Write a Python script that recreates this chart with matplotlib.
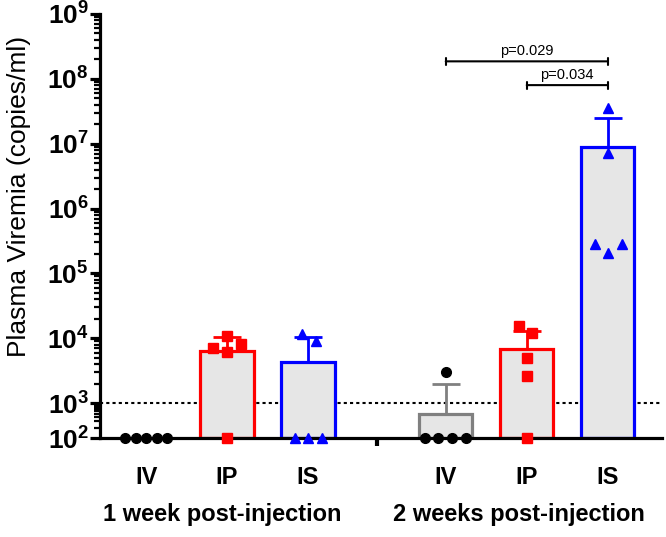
import numpy as np
import matplotlib
matplotlib.use("Agg")
import matplotlib.pyplot as plt
from matplotlib.ticker import LogLocator, FuncFormatter, FixedLocator, NullFormatter

plt.rcParams["font.family"] = ["Liberation Sans", "DejaVu Sans"]
plt.rcParams["mathtext.fontset"] = "custom"
plt.rcParams["mathtext.rm"] = "Liberation Sans"
plt.rcParams["mathtext.bf"] = "Liberation Sans:bold"

# ============================ data ============================ #
groups = ["IV", "IP", "IS", "IV", "IP", "IS"]
time_labels = ["1 week post-injection", "2 weeks post-injection"]

bar_mean = [100, 6400, 4350, 490, 6800, 9.0e6]
bar_sd = [0, 4100, 6150, 1510, 6200, 1.6e7]

pts_iv1 = [100, 100, 100, 100, 100]
pts_ip1 = [7000, 8100, 10800, 6100, 100]
pts_is1 = [11500, 9100, 100, 100, 100]
pts_iv2 = [3000, 100, 100, 100, 100]
pts_ip2 = [15400, 12000, 4900, 2600, 100]
pts_is2 = [3.5e7, 7.2e6, 2.8e5, 2.8e5, 2.04e5]

p_values = ["p=0.029", "p=0.034"]
detect_limit = 1000

# ========================== layout ========================== #
xpos = [0, 1, 2, 3.7, 4.7, 5.7]
jitter = [
    [-0.26, -0.13, 0, 0.13, 0.26],
    [-0.17, 0.17, 0, 0, 0],
    [-0.07, 0.10, -0.16, 0, 0.17],
    [0, -0.26, -0.09, 0.08, 0.25],
    [-0.09, 0.07, 0, 0, 0],
    [0, 0, -0.16, 0.17, 0],
]
colors = ["black", "#ff0000", "#0000ff", "#808080", "#ff0000", "#0000ff"]
pt_colors = ["black", "#ff0000", "#0000ff", "black", "#ff0000", "#0000ff"]
markers = ["o", "s", "^", "o", "s", "^"]
all_pts = [pts_iv1, pts_ip1, pts_is1, pts_iv2, pts_ip2, pts_is2]


# 10^2..10^3 段壓縮 (Prism 軸)
def fwd(y):
    y = np.asarray(y, dtype=float)
    with np.errstate(divide="ignore", invalid="ignore"):
        l = np.log10(np.where(y > 0, y, 1e-300))
    return np.where(l >= 3, l, 3 - (3 - l) * 0.54)


def inv(v):
    v = np.asarray(v, dtype=float)
    return np.where(v >= 3, 10.0 ** v, 10.0 ** (3 - (3 - v) / 0.54))


fig = plt.figure(figsize=(6.66, 5.37), dpi=100)
ax = fig.add_axes([0.150, 0.184, 0.844, 0.790])
ax.set_yscale("function", functions=(fwd, inv))
ax.set_ylim(100, 1e9)
ax.set_xlim(-0.57, 6.37)

# bars
for i in range(6):
    if bar_mean[i] <= 100:
        continue
    ax.bar(xpos[i], bar_mean[i] - 100, bottom=100, width=0.66,
           color="#e6e6e6", edgecolor=colors[i], linewidth=2.3, zorder=2)
    ax.errorbar(xpos[i], bar_mean[i], yerr=[[0], [bar_sd[i]]], fmt="none",
                ecolor=colors[i], elinewidth=2.0, capsize=10, capthick=2.0,
                zorder=1.5)

# points
for i in range(6):
    xs = [xpos[i] + j for j in jitter[i]]
    ax.plot(xs, all_pts[i], linestyle="none", marker=markers[i],
            color=pt_colors[i], markersize=7, zorder=4, clip_on=False)

# detection limit
ax.axhline(detect_limit, color="black", linestyle=(0, (1.5, 1.5)),
           linewidth=1.5, zorder=1)

# significance brackets
br_y = [1.86e8, 8.0e7]
br_x = [(xpos[3], xpos[5]), (xpos[4], xpos[5])]
for k in range(2):
    ax.annotate("", xy=(br_x[k][0], br_y[k]), xytext=(br_x[k][1], br_y[k]),
                arrowprops=dict(arrowstyle="|-|, widthA=0.25, widthB=0.25",
                                lw=1.5, color="black",
                                shrinkA=0, shrinkB=0))
    ax.text((br_x[k][0] + br_x[k][1]) / 2, br_y[k] * 1.12, p_values[k],
            ha="center", va="bottom", fontsize=10.5)

# axes styling
ax.spines["top"].set_visible(False)
ax.spines["right"].set_visible(False)
ax.spines["left"].set_linewidth(2.3)
ax.spines["bottom"].set_linewidth(2.3)

ax.yaxis.set_major_locator(FixedLocator([10.0 ** e for e in range(2, 10)]))
ax.yaxis.set_minor_locator(LogLocator(base=10, subs=np.arange(2, 10), numticks=30))
ax.yaxis.set_minor_formatter(NullFormatter())
ax.yaxis.set_major_formatter(FuncFormatter(
    lambda v, p: r"$\mathbf{10^{%d}}$" % int(round(np.log10(v)))))
ax.tick_params(axis="y", which="major", length=7, width=2.3, labelsize=19, pad=1)
ax.tick_params(axis="y", which="minor", length=4, width=1.6)

ax.set_xticks(xpos)
ax.set_xticklabels(groups, fontsize=17, fontweight="bold")
ax.tick_params(axis="x", which="major", length=0, pad=20)
ax.set_xticks([2.85], minor=True)
ax.tick_params(axis="x", which="minor", length=6, width=3)

ax.set_ylabel("Plasma Viremia (copies/ml)", fontsize=19)
ax.yaxis.set_label_coords(-0.122, 0.57)

group_x = [0.94, 4.6]
for k in range(2):
    ax.text(group_x[k], -0.18, time_labels[k], transform=ax.get_xaxis_transform(),
            ha="center", va="center", fontsize=17, fontweight="bold")

fig.savefig("out.png", dpi=100)
